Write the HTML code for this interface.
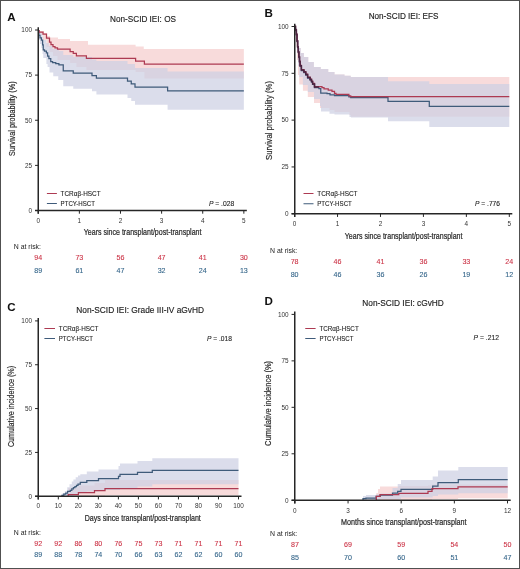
<!DOCTYPE html>
<html><head><meta charset="utf-8"><title>Non-SCID IEI outcomes</title>
<style>
html,body{margin:0;padding:0;background:#fff;}
body{width:520px;height:569px;overflow:hidden;}
svg{display:block;font-family:"Liberation Sans", sans-serif;-webkit-font-smoothing:antialiased;will-change:transform;}
</style></head>
<body>
<svg width="520" height="569" viewBox="0 0 520 569">
<rect x="0" y="0" width="520" height="569" fill="#fff"/>
<polygon points="38.25,30.00 40.00,30.00 40.00,31.00 44.00,31.00 44.00,33.00 47.00,33.00 47.00,36.00 50.00,36.00 50.00,37.50 58.00,37.50 58.00,39.00 70.00,39.00 70.00,41.00 88.00,41.00 88.00,44.75 135.60,44.75 135.60,46.60 143.75,46.60 143.75,49.10 243.85,49.10 243.85,78.40 144.40,78.40 144.40,72.00 135.60,72.00 135.60,70.00 86.40,70.00 86.40,67.00 76.40,67.00 76.40,63.00 70.10,63.00 70.10,60.00 57.50,60.00 57.50,56.00 53.00,56.00 53.00,52.00 49.50,52.00 49.50,47.00 46.50,47.00 46.50,40.00 43.00,40.00 43.00,35.00 39.00,35.00 39.00,30.00 38.25,30.00" fill="#f8dbdb"/>
<polygon points="38.25,30.00 38.90,30.00 38.90,31.00 40.00,31.00 40.00,32.50 41.40,32.50 41.40,34.00 42.60,34.00 42.60,37.00 43.25,37.00 43.25,40.00 46.40,40.00 46.40,43.00 48.90,43.00 48.90,46.00 52.60,46.00 52.60,49.00 58.90,49.00 58.90,51.00 63.25,51.00 63.25,55.00 73.25,55.00 73.25,57.00 92.00,57.00 92.00,59.50 96.40,59.50 96.40,61.00 127.50,61.00 127.50,64.00 135.00,64.00 135.00,68.00 167.60,68.00 167.60,71.40 243.85,71.40 243.85,109.75 167.60,109.75 167.60,104.75 135.00,104.75 135.00,101.00 131.25,101.00 131.25,98.00 127.50,98.00 127.50,94.40 96.40,94.40 96.40,91.25 92.00,91.25 92.00,88.75 73.25,88.75 73.25,86.25 63.25,86.25 63.25,80.00 58.25,80.00 58.25,76.25 53.25,76.25 53.25,72.50 49.50,72.50 49.50,67.00 47.60,67.00 47.60,64.00 46.40,64.00 46.40,58.00 43.25,58.00 43.25,54.00 42.60,54.00 42.60,48.00 41.40,48.00 41.40,44.00 40.00,44.00 40.00,40.00 38.90,40.00 38.90,30.00 38.25,30.00" fill="rgba(206,209,228,0.73)"/>
<path d="M38.25 30.50H38.90V35.40H40.00V37.90H41.40V40.00H42.60V44.75H43.25V49.75H44.50V51.00H46.40V52.90H47.60V56.00H48.90V58.50H50.75V61.60H52.60V62.50H55.75V63.50H58.90V64.75H63.25V70.75H73.25V73.10H92.00V75.60H96.40V78.10H127.50V81.00H131.25V83.75H135.00V87.00H167.60V90.80H243.85" fill="none" stroke="#3f5b7a" stroke-width="1.25"/>
<path d="M38.25 30.50H39.00V32.00H43.00V34.00H46.50V38.00H49.50V42.20H51.00V44.70H53.00V46.60H55.00V47.90H57.50V49.10H70.10V51.60H73.25V53.25H76.40V55.75H86.40V58.25H135.60V61.00H144.40V64.10H243.85" fill="none" stroke="#ad3a52" stroke-width="1.25"/>
<path d="M38.25 27.20V213.70" stroke="#262626" stroke-width="1.5" fill="none"/>
<path d="M35.05 210.50H246.85" stroke="#262626" stroke-width="1.3" fill="none"/>
<path d="M35.05 210.50H38.25" stroke="#262626" stroke-width="1" fill="none"/>
<text x="32.00" y="212.80" font-size="6.40" fill="#333" text-anchor="end">0</text>
<path d="M35.05 165.38H38.25" stroke="#262626" stroke-width="1" fill="none"/>
<text x="32.00" y="167.68" font-size="6.40" fill="#333" text-anchor="end">25</text>
<path d="M35.05 120.25H38.25" stroke="#262626" stroke-width="1" fill="none"/>
<text x="32.00" y="122.55" font-size="6.40" fill="#333" text-anchor="end">50</text>
<path d="M35.05 75.12H38.25" stroke="#262626" stroke-width="1" fill="none"/>
<text x="32.00" y="77.42" font-size="6.40" fill="#333" text-anchor="end">75</text>
<path d="M35.05 30.00H38.25" stroke="#262626" stroke-width="1" fill="none"/>
<text x="32.00" y="32.30" font-size="6.40" fill="#333" text-anchor="end">100</text>
<path d="M38.25 210.50V213.70" stroke="#262626" stroke-width="1" fill="none"/>
<text x="38.25" y="222.60" font-size="6.40" fill="#333" text-anchor="middle">0</text>
<path d="M79.37 210.50V213.70" stroke="#262626" stroke-width="1" fill="none"/>
<text x="79.37" y="222.60" font-size="6.40" fill="#333" text-anchor="middle">1</text>
<path d="M120.49 210.50V213.70" stroke="#262626" stroke-width="1" fill="none"/>
<text x="120.49" y="222.60" font-size="6.40" fill="#333" text-anchor="middle">2</text>
<path d="M161.61 210.50V213.70" stroke="#262626" stroke-width="1" fill="none"/>
<text x="161.61" y="222.60" font-size="6.40" fill="#333" text-anchor="middle">3</text>
<path d="M202.73 210.50V213.70" stroke="#262626" stroke-width="1" fill="none"/>
<text x="202.73" y="222.60" font-size="6.40" fill="#333" text-anchor="middle">4</text>
<path d="M243.85 210.50V213.70" stroke="#262626" stroke-width="1" fill="none"/>
<text x="243.85" y="222.60" font-size="6.40" fill="#333" text-anchor="middle">5</text>
<text x="83.75" y="235.30" font-size="8.60" fill="#2a2a2a" textLength="117.75" lengthAdjust="spacingAndGlyphs" stroke="#2a2a2a" stroke-width="0.22">Years since transplant/post-transplant</text>
<text transform="translate(14.70 156.10) rotate(-90)" font-size="8.4" fill="#2a2a2a" stroke="#2a2a2a" stroke-width="0.18" textLength="74.70" lengthAdjust="spacingAndGlyphs">Survival probability (%)</text>
<text x="7.30" y="20.60" font-size="11.60" fill="#111" font-weight="bold">A</text>
<text x="110.00" y="21.75" font-size="8.50" fill="#1e1e1e" textLength="66.00" lengthAdjust="spacingAndGlyphs" stroke="#1e1e1e" stroke-width="0.15">Non-SCID IEI: OS</text>
<path d="M46.90 193.50H56.90" stroke="#ad3a52" stroke-width="1" fill="none"/>
<path d="M46.90 203.50H56.90" stroke="#3f5b7a" stroke-width="1" fill="none"/>
<text x="60.60" y="196.00" font-size="7.40" fill="#262626" textLength="40.00" lengthAdjust="spacingAndGlyphs" stroke="#262626" stroke-width="0.12">TCR&#945;&#946;-HSCT</text>
<text x="60.60" y="205.60" font-size="7.40" fill="#262626" textLength="34.40" lengthAdjust="spacingAndGlyphs" stroke="#262626" stroke-width="0.12">PTCY-HSCT</text>
<text x="208.90" y="205.70" font-size="6.9" fill="#262626" stroke="#262626" stroke-width="0.12" textLength="25.30" lengthAdjust="spacingAndGlyphs"><tspan font-style="italic">P</tspan> = .028</text>
<text x="13.75" y="249.25" font-size="6.90" fill="#222" textLength="27.20" lengthAdjust="spacingAndGlyphs">N at risk:</text>
<text x="38.25" y="259.50" font-size="7.10" fill="#cc3447" text-anchor="middle" stroke="#cc3447" stroke-width="0.1">94</text>
<text x="38.25" y="273.00" font-size="7.10" fill="#35668a" text-anchor="middle" stroke="#35668a" stroke-width="0.1">89</text>
<text x="79.37" y="259.50" font-size="7.10" fill="#cc3447" text-anchor="middle" stroke="#cc3447" stroke-width="0.1">73</text>
<text x="79.37" y="273.00" font-size="7.10" fill="#35668a" text-anchor="middle" stroke="#35668a" stroke-width="0.1">61</text>
<text x="120.49" y="259.50" font-size="7.10" fill="#cc3447" text-anchor="middle" stroke="#cc3447" stroke-width="0.1">56</text>
<text x="120.49" y="273.00" font-size="7.10" fill="#35668a" text-anchor="middle" stroke="#35668a" stroke-width="0.1">47</text>
<text x="161.61" y="259.50" font-size="7.10" fill="#cc3447" text-anchor="middle" stroke="#cc3447" stroke-width="0.1">47</text>
<text x="161.61" y="273.00" font-size="7.10" fill="#35668a" text-anchor="middle" stroke="#35668a" stroke-width="0.1">32</text>
<text x="202.73" y="259.50" font-size="7.10" fill="#cc3447" text-anchor="middle" stroke="#cc3447" stroke-width="0.1">41</text>
<text x="202.73" y="273.00" font-size="7.10" fill="#35668a" text-anchor="middle" stroke="#35668a" stroke-width="0.1">24</text>
<text x="243.85" y="259.50" font-size="7.10" fill="#cc3447" text-anchor="middle" stroke="#cc3447" stroke-width="0.1">30</text>
<text x="243.85" y="273.00" font-size="7.10" fill="#35668a" text-anchor="middle" stroke="#35668a" stroke-width="0.1">13</text>
<polygon points="294.75,26.50 296.00,26.50 296.00,28.00 297.00,28.00 297.00,33.00 298.00,33.00 298.00,40.00 299.00,40.00 299.00,48.00 300.75,48.00 300.75,53.00 303.90,53.00 303.90,57.00 308.25,57.00 308.25,62.00 313.90,62.00 313.90,67.00 320.75,67.00 320.75,68.90 328.25,68.90 328.25,72.00 334.50,72.00 334.50,74.50 344.50,74.50 344.50,75.75 350.75,75.75 350.75,77.00 509.30,77.00 509.30,116.70 351.00,116.70 351.00,115.00 349.50,115.00 349.50,112.00 334.50,112.00 334.50,110.00 329.50,110.00 329.50,108.00 320.00,108.00 320.00,103.00 314.00,103.00 314.00,96.90 307.80,96.90 307.80,90.70 302.90,90.70 302.90,84.50 299.20,84.50 299.20,75.00 298.00,75.00 298.00,60.00 297.00,60.00 297.00,47.00 296.40,47.00 296.40,35.00 295.50,35.00 295.50,26.50 294.75,26.50" fill="#f8dbdb"/>
<polygon points="294.75,26.50 296.00,26.50 296.00,28.00 297.00,28.00 297.00,33.00 298.00,33.00 298.00,40.00 299.00,40.00 299.00,48.00 300.75,48.00 300.75,53.00 303.90,53.00 303.90,57.00 308.25,57.00 308.25,62.00 313.90,62.00 313.90,67.00 320.75,67.00 320.75,68.90 328.25,68.90 328.25,72.00 334.50,72.00 334.50,74.50 344.50,74.50 344.50,75.75 350.75,75.75 350.75,77.00 388.00,77.00 388.00,81.25 429.30,81.25 429.30,84.00 509.30,84.00 509.30,127.00 429.30,127.00 429.30,121.25 388.00,121.25 388.00,117.50 351.00,117.50 351.00,116.90 349.50,116.90 349.50,114.40 334.50,114.40 334.50,113.75 329.50,113.75 329.50,111.60 321.00,111.60 321.00,106.00 320.00,106.00 320.00,99.00 314.00,99.00 314.00,92.00 307.80,92.00 307.80,85.00 302.90,85.00 302.90,77.00 299.20,77.00 299.20,66.00 298.00,66.00 298.00,52.00 297.00,52.00 297.00,33.00 296.00,33.00 296.00,26.50 294.75,26.50" fill="rgba(206,209,228,0.73)"/>
<path d="M294.75 27.00H295.50V30.50H296.40V35.00H297.00V41.50H297.60V47.50H298.30V52.50H298.90V57.50H299.50V62.00H300.10V66.25H301.40V70.60H303.90V72.50H305.75V75.00H307.60V78.10H310.10V80.00H311.50V82.00H312.60V84.40H314.50V87.50H318.90V88.60H320.75V93.00H327.00V93.60H330.00V94.90H334.50V95.50H348.90V96.75H350.75V97.50H388.00V101.25H429.30V106.30H509.30" fill="none" stroke="#3f5b7a" stroke-width="1.25"/>
<path d="M294.75 26.00H295.50V29.50H296.40V34.00H297.00V40.50H297.60V46.50H298.30V51.50H298.90V56.50H299.50V61.00H300.10V65.25H301.40V69.60H303.90V71.50H305.75V74.00H307.60V77.10H310.10V79.00H311.50V81.00H312.60V83.40H314.50V86.50H322.00V87.50H324.00V88.90H328.25V90.10H332.00V91.40H334.50V93.25H336.00V94.25H348.90V95.75H350.75V96.50H509.30" fill="none" stroke="#ad3a52" stroke-width="1.25"/>
<path d="M294.75 26.50H295.50V30.00H296.40V34.50H297.00V41.00H297.60V47.00H298.30V52.00H298.90V57.00H299.50V61.50H300.10V65.75H301.40V70.10H303.90V72.00H305.75V74.50H307.60V77.60H310.10V79.50H311.50V81.50H312.60V83.90H314.50V87.00H318.90" fill="none" stroke="#4a2440" stroke-width="1.5"/>
<path d="M294.75 23.70V216.95" stroke="#262626" stroke-width="1.5" fill="none"/>
<path d="M291.55 213.75H512.30" stroke="#262626" stroke-width="1.3" fill="none"/>
<path d="M291.55 213.75H294.75" stroke="#262626" stroke-width="1" fill="none"/>
<text x="288.60" y="216.05" font-size="6.40" fill="#333" text-anchor="end">0</text>
<path d="M291.55 166.94H294.75" stroke="#262626" stroke-width="1" fill="none"/>
<text x="288.60" y="169.24" font-size="6.40" fill="#333" text-anchor="end">25</text>
<path d="M291.55 120.12H294.75" stroke="#262626" stroke-width="1" fill="none"/>
<text x="288.60" y="122.42" font-size="6.40" fill="#333" text-anchor="end">50</text>
<path d="M291.55 73.31H294.75" stroke="#262626" stroke-width="1" fill="none"/>
<text x="288.60" y="75.61" font-size="6.40" fill="#333" text-anchor="end">75</text>
<path d="M291.55 26.50H294.75" stroke="#262626" stroke-width="1" fill="none"/>
<text x="288.60" y="28.80" font-size="6.40" fill="#333" text-anchor="end">100</text>
<path d="M294.60 213.75V216.95" stroke="#262626" stroke-width="1" fill="none"/>
<text x="294.60" y="226.30" font-size="6.40" fill="#333" text-anchor="middle">0</text>
<path d="M337.54 213.75V216.95" stroke="#262626" stroke-width="1" fill="none"/>
<text x="337.54" y="226.30" font-size="6.40" fill="#333" text-anchor="middle">1</text>
<path d="M380.48 213.75V216.95" stroke="#262626" stroke-width="1" fill="none"/>
<text x="380.48" y="226.30" font-size="6.40" fill="#333" text-anchor="middle">2</text>
<path d="M423.42 213.75V216.95" stroke="#262626" stroke-width="1" fill="none"/>
<text x="423.42" y="226.30" font-size="6.40" fill="#333" text-anchor="middle">3</text>
<path d="M466.36 213.75V216.95" stroke="#262626" stroke-width="1" fill="none"/>
<text x="466.36" y="226.30" font-size="6.40" fill="#333" text-anchor="middle">4</text>
<path d="M509.30 213.75V216.95" stroke="#262626" stroke-width="1" fill="none"/>
<text x="509.30" y="226.30" font-size="6.40" fill="#333" text-anchor="middle">5</text>
<text x="344.75" y="238.60" font-size="8.60" fill="#2a2a2a" textLength="117.75" lengthAdjust="spacingAndGlyphs" stroke="#2a2a2a" stroke-width="0.22">Years since transplant/post-transplant</text>
<text transform="translate(271.50 160.00) rotate(-90)" font-size="8.4" fill="#2a2a2a" stroke="#2a2a2a" stroke-width="0.18" textLength="79.00" lengthAdjust="spacingAndGlyphs">Survival probability (%)</text>
<text x="264.60" y="17.30" font-size="11.60" fill="#111" font-weight="bold">B</text>
<text x="368.65" y="18.85" font-size="8.50" fill="#1e1e1e" textLength="69.85" lengthAdjust="spacingAndGlyphs" stroke="#1e1e1e" stroke-width="0.15">Non-SCID IEI: EFS</text>
<path d="M303.50 193.50H313.50" stroke="#ad3a52" stroke-width="1" fill="none"/>
<path d="M303.50 203.75H313.50" stroke="#3f5b7a" stroke-width="1" fill="none"/>
<text x="317.25" y="196.00" font-size="7.40" fill="#262626" textLength="40.25" lengthAdjust="spacingAndGlyphs" stroke="#262626" stroke-width="0.12">TCR&#945;&#946;-HSCT</text>
<text x="317.25" y="206.00" font-size="7.40" fill="#262626" textLength="34.60" lengthAdjust="spacingAndGlyphs" stroke="#262626" stroke-width="0.12">PTCY-HSCT</text>
<text x="475.00" y="206.10" font-size="6.9" fill="#262626" stroke="#262626" stroke-width="0.12" textLength="25.00" lengthAdjust="spacingAndGlyphs"><tspan font-style="italic">P</tspan> = .776</text>
<text x="270.10" y="253.00" font-size="6.90" fill="#222" textLength="27.20" lengthAdjust="spacingAndGlyphs">N at risk:</text>
<text x="294.60" y="263.60" font-size="7.10" fill="#cc3447" text-anchor="middle" stroke="#cc3447" stroke-width="0.1">78</text>
<text x="294.60" y="276.70" font-size="7.10" fill="#35668a" text-anchor="middle" stroke="#35668a" stroke-width="0.1">80</text>
<text x="337.54" y="263.60" font-size="7.10" fill="#cc3447" text-anchor="middle" stroke="#cc3447" stroke-width="0.1">46</text>
<text x="337.54" y="276.70" font-size="7.10" fill="#35668a" text-anchor="middle" stroke="#35668a" stroke-width="0.1">46</text>
<text x="380.48" y="263.60" font-size="7.10" fill="#cc3447" text-anchor="middle" stroke="#cc3447" stroke-width="0.1">41</text>
<text x="380.48" y="276.70" font-size="7.10" fill="#35668a" text-anchor="middle" stroke="#35668a" stroke-width="0.1">36</text>
<text x="423.42" y="263.60" font-size="7.10" fill="#cc3447" text-anchor="middle" stroke="#cc3447" stroke-width="0.1">36</text>
<text x="423.42" y="276.70" font-size="7.10" fill="#35668a" text-anchor="middle" stroke="#35668a" stroke-width="0.1">26</text>
<text x="466.36" y="263.60" font-size="7.10" fill="#cc3447" text-anchor="middle" stroke="#cc3447" stroke-width="0.1">33</text>
<text x="466.36" y="276.70" font-size="7.10" fill="#35668a" text-anchor="middle" stroke="#35668a" stroke-width="0.1">19</text>
<text x="509.30" y="263.60" font-size="7.10" fill="#cc3447" text-anchor="middle" stroke="#cc3447" stroke-width="0.1">24</text>
<text x="509.30" y="276.70" font-size="7.10" fill="#35668a" text-anchor="middle" stroke="#35668a" stroke-width="0.1">12</text>
<polygon points="38.30,496.25 68.20,496.25 68.20,488.00 78.40,488.00 78.40,485.50 94.50,485.50 94.50,483.00 105.00,483.00 105.00,480.00 238.50,480.00 238.50,495.20 105.00,495.20 105.00,495.70 94.50,495.70 94.50,496.00 78.40,496.00 78.40,496.20 68.20,496.20 68.20,496.25 38.30,496.25" fill="#f8dbdb"/>
<polygon points="38.30,496.25 61.90,496.25 61.90,494.00 62.60,494.00 62.60,493.00 64.90,493.00 64.90,491.00 67.20,491.00 67.20,487.20 69.50,487.20 69.50,484.20 71.80,484.20 71.80,481.50 73.40,481.50 73.40,479.50 75.70,479.50 75.70,477.20 78.00,477.20 78.00,475.50 80.30,475.50 80.30,474.20 86.80,474.20 86.80,471.50 98.50,471.50 98.50,469.50 118.50,469.50 118.50,466.00 120.00,466.00 120.00,463.50 137.50,463.50 137.50,461.00 152.30,461.00 152.30,458.30 238.50,458.30 238.50,484.20 152.30,484.20 152.30,486.50 137.50,486.50 137.50,488.00 120.00,488.00 120.00,490.00 98.50,490.00 98.50,491.50 86.80,491.50 86.80,493.00 80.30,493.00 80.30,494.00 78.00,494.00 78.00,495.00 73.40,495.00 73.40,496.00 67.60,496.00 67.60,496.25 38.30,496.25" fill="rgba(206,209,228,0.73)"/>
<path d="M61.90 496.25H61.90V495.30H63.80V494.20H65.70V493.00H67.60V491.30H70.30V490.30H71.80V488.90H73.40V487.60H74.90V486.50H76.50V485.30H78.00V484.20H80.30V482.40H86.80V480.50H98.50V478.60H118.50V476.30H120.00V474.40H137.50V472.40H152.30V470.30H238.50" fill="none" stroke="#3f5b7a" stroke-width="1.25"/>
<path d="M68.20 496.25H68.20V494.60H78.40V492.60H94.50V490.60H105.00V488.50H238.50" fill="none" stroke="#ad3a52" stroke-width="1.25"/>
<path d="M38.25 318.10V499.45" stroke="#262626" stroke-width="1.5" fill="none"/>
<path d="M35.05 496.25H241.50" stroke="#262626" stroke-width="1.3" fill="none"/>
<path d="M35.05 496.25H38.25" stroke="#262626" stroke-width="1" fill="none"/>
<text x="32.00" y="498.55" font-size="6.40" fill="#333" text-anchor="end">0</text>
<path d="M35.05 452.41H38.25" stroke="#262626" stroke-width="1" fill="none"/>
<text x="32.00" y="454.71" font-size="6.40" fill="#333" text-anchor="end">25</text>
<path d="M35.05 408.57H38.25" stroke="#262626" stroke-width="1" fill="none"/>
<text x="32.00" y="410.88" font-size="6.40" fill="#333" text-anchor="end">50</text>
<path d="M35.05 364.74H38.25" stroke="#262626" stroke-width="1" fill="none"/>
<text x="32.00" y="367.04" font-size="6.40" fill="#333" text-anchor="end">75</text>
<path d="M35.05 320.90H38.25" stroke="#262626" stroke-width="1" fill="none"/>
<text x="32.00" y="323.20" font-size="6.40" fill="#333" text-anchor="end">100</text>
<path d="M38.30 496.25V499.45" stroke="#262626" stroke-width="1" fill="none"/>
<text x="38.30" y="508.40" font-size="6.40" fill="#333" text-anchor="middle">0</text>
<path d="M58.32 496.25V499.45" stroke="#262626" stroke-width="1" fill="none"/>
<text x="58.32" y="508.40" font-size="6.40" fill="#333" text-anchor="middle">10</text>
<path d="M78.34 496.25V499.45" stroke="#262626" stroke-width="1" fill="none"/>
<text x="78.34" y="508.40" font-size="6.40" fill="#333" text-anchor="middle">20</text>
<path d="M98.36 496.25V499.45" stroke="#262626" stroke-width="1" fill="none"/>
<text x="98.36" y="508.40" font-size="6.40" fill="#333" text-anchor="middle">30</text>
<path d="M118.38 496.25V499.45" stroke="#262626" stroke-width="1" fill="none"/>
<text x="118.38" y="508.40" font-size="6.40" fill="#333" text-anchor="middle">40</text>
<path d="M138.40 496.25V499.45" stroke="#262626" stroke-width="1" fill="none"/>
<text x="138.40" y="508.40" font-size="6.40" fill="#333" text-anchor="middle">50</text>
<path d="M158.42 496.25V499.45" stroke="#262626" stroke-width="1" fill="none"/>
<text x="158.42" y="508.40" font-size="6.40" fill="#333" text-anchor="middle">60</text>
<path d="M178.44 496.25V499.45" stroke="#262626" stroke-width="1" fill="none"/>
<text x="178.44" y="508.40" font-size="6.40" fill="#333" text-anchor="middle">70</text>
<path d="M198.46 496.25V499.45" stroke="#262626" stroke-width="1" fill="none"/>
<text x="198.46" y="508.40" font-size="6.40" fill="#333" text-anchor="middle">80</text>
<path d="M218.48 496.25V499.45" stroke="#262626" stroke-width="1" fill="none"/>
<text x="218.48" y="508.40" font-size="6.40" fill="#333" text-anchor="middle">90</text>
<path d="M238.50 496.25V499.45" stroke="#262626" stroke-width="1" fill="none"/>
<text x="238.50" y="508.40" font-size="6.40" fill="#333" text-anchor="middle">100</text>
<text x="84.75" y="521.20" font-size="8.60" fill="#2a2a2a" textLength="116.05" lengthAdjust="spacingAndGlyphs" stroke="#2a2a2a" stroke-width="0.22">Days since transplant/post-transplant</text>
<text transform="translate(14.40 447.10) rotate(-90)" font-size="8.4" fill="#2a2a2a" stroke="#2a2a2a" stroke-width="0.18" textLength="81.20" lengthAdjust="spacingAndGlyphs">Cumulative incidence (%)</text>
<text x="7.30" y="311.30" font-size="11.60" fill="#111" font-weight="bold">C</text>
<text x="76.25" y="312.50" font-size="8.50" fill="#1e1e1e" textLength="127.75" lengthAdjust="spacingAndGlyphs" stroke="#1e1e1e" stroke-width="0.15">Non-SCID IEI: Grade III-IV aGvHD</text>
<path d="M44.40 328.50H55.00" stroke="#ad3a52" stroke-width="1" fill="none"/>
<path d="M44.40 338.50H55.00" stroke="#3f5b7a" stroke-width="1" fill="none"/>
<text x="58.75" y="330.60" font-size="7.40" fill="#262626" textLength="39.75" lengthAdjust="spacingAndGlyphs" stroke="#262626" stroke-width="0.12">TCR&#945;&#946;-HSCT</text>
<text x="58.75" y="340.60" font-size="7.40" fill="#262626" textLength="34.20" lengthAdjust="spacingAndGlyphs" stroke="#262626" stroke-width="0.12">PTCY-HSCT</text>
<text x="206.90" y="340.60" font-size="6.9" fill="#262626" stroke="#262626" stroke-width="0.12" textLength="25.00" lengthAdjust="spacingAndGlyphs"><tspan font-style="italic">P</tspan> = .018</text>
<text x="13.75" y="535.25" font-size="6.90" fill="#222" textLength="27.20" lengthAdjust="spacingAndGlyphs">N at risk:</text>
<text x="38.30" y="545.75" font-size="7.10" fill="#cc3447" text-anchor="middle" stroke="#cc3447" stroke-width="0.1">92</text>
<text x="38.30" y="556.50" font-size="7.10" fill="#35668a" text-anchor="middle" stroke="#35668a" stroke-width="0.1">89</text>
<text x="58.32" y="545.75" font-size="7.10" fill="#cc3447" text-anchor="middle" stroke="#cc3447" stroke-width="0.1">92</text>
<text x="58.32" y="556.50" font-size="7.10" fill="#35668a" text-anchor="middle" stroke="#35668a" stroke-width="0.1">88</text>
<text x="78.34" y="545.75" font-size="7.10" fill="#cc3447" text-anchor="middle" stroke="#cc3447" stroke-width="0.1">86</text>
<text x="78.34" y="556.50" font-size="7.10" fill="#35668a" text-anchor="middle" stroke="#35668a" stroke-width="0.1">78</text>
<text x="98.36" y="545.75" font-size="7.10" fill="#cc3447" text-anchor="middle" stroke="#cc3447" stroke-width="0.1">80</text>
<text x="98.36" y="556.50" font-size="7.10" fill="#35668a" text-anchor="middle" stroke="#35668a" stroke-width="0.1">74</text>
<text x="118.38" y="545.75" font-size="7.10" fill="#cc3447" text-anchor="middle" stroke="#cc3447" stroke-width="0.1">76</text>
<text x="118.38" y="556.50" font-size="7.10" fill="#35668a" text-anchor="middle" stroke="#35668a" stroke-width="0.1">70</text>
<text x="138.40" y="545.75" font-size="7.10" fill="#cc3447" text-anchor="middle" stroke="#cc3447" stroke-width="0.1">75</text>
<text x="138.40" y="556.50" font-size="7.10" fill="#35668a" text-anchor="middle" stroke="#35668a" stroke-width="0.1">66</text>
<text x="158.42" y="545.75" font-size="7.10" fill="#cc3447" text-anchor="middle" stroke="#cc3447" stroke-width="0.1">73</text>
<text x="158.42" y="556.50" font-size="7.10" fill="#35668a" text-anchor="middle" stroke="#35668a" stroke-width="0.1">63</text>
<text x="178.44" y="545.75" font-size="7.10" fill="#cc3447" text-anchor="middle" stroke="#cc3447" stroke-width="0.1">71</text>
<text x="178.44" y="556.50" font-size="7.10" fill="#35668a" text-anchor="middle" stroke="#35668a" stroke-width="0.1">62</text>
<text x="198.46" y="545.75" font-size="7.10" fill="#cc3447" text-anchor="middle" stroke="#cc3447" stroke-width="0.1">71</text>
<text x="198.46" y="556.50" font-size="7.10" fill="#35668a" text-anchor="middle" stroke="#35668a" stroke-width="0.1">62</text>
<text x="218.48" y="545.75" font-size="7.10" fill="#cc3447" text-anchor="middle" stroke="#cc3447" stroke-width="0.1">71</text>
<text x="218.48" y="556.50" font-size="7.10" fill="#35668a" text-anchor="middle" stroke="#35668a" stroke-width="0.1">60</text>
<text x="238.50" y="545.75" font-size="7.10" fill="#cc3447" text-anchor="middle" stroke="#cc3447" stroke-width="0.1">71</text>
<text x="238.50" y="556.50" font-size="7.10" fill="#35668a" text-anchor="middle" stroke="#35668a" stroke-width="0.1">60</text>
<polygon points="294.75,500.25 376.30,500.25 376.30,493.00 378.00,493.00 378.00,489.00 380.00,489.00 380.00,486.50 398.75,486.50 398.75,486.00 428.00,486.00 428.00,485.50 432.00,485.50 432.00,484.60 458.00,484.60 458.00,484.60 507.70,484.60 507.70,498.30 458.00,498.30 458.00,499.00 432.00,499.00 432.00,499.80 398.75,499.80 398.75,500.25 376.30,500.25 376.30,500.25 294.75,500.25" fill="#f8dbdb"/>
<polygon points="294.75,500.25 363.00,500.25 363.00,496.00 366.00,496.00 366.00,495.00 376.20,495.00 376.20,494.50 380.20,494.50 380.20,493.50 392.50,493.50 392.50,488.00 397.70,488.00 397.70,484.00 401.00,484.00 401.00,480.00 432.70,480.00 432.70,476.50 438.00,476.50 438.00,470.50 458.30,470.50 458.30,467.10 507.70,467.10 507.70,493.30 458.30,493.30 458.30,494.50 438.00,494.50 438.00,496.00 432.70,496.00 432.70,497.50 401.00,497.50 401.00,499.00 380.20,499.00 380.20,500.00 376.20,500.00 376.20,500.25 363.00,500.25 363.00,500.25 294.75,500.25" fill="rgba(206,209,228,0.73)"/>
<path d="M363.00 500.25H363.00V498.50H366.00V498.20H376.20V496.40H380.20V495.00H392.50V493.00H397.70V491.30H401.00V489.30H432.70V486.00H438.00V482.60H458.30V479.60H507.70" fill="none" stroke="#3f5b7a" stroke-width="1.25"/>
<path d="M376.30 500.25H376.30V496.30H380.00V494.50H398.75V493.30H428.00V491.30H432.00V488.60H458.00V486.80H507.70" fill="none" stroke="#ad3a52" stroke-width="1.25"/>
<path d="M294.75 311.60V503.45" stroke="#262626" stroke-width="1.5" fill="none"/>
<path d="M291.55 500.25H510.70" stroke="#262626" stroke-width="1.3" fill="none"/>
<path d="M291.55 500.25H294.75" stroke="#262626" stroke-width="1" fill="none"/>
<text x="288.60" y="502.55" font-size="6.40" fill="#333" text-anchor="end">0</text>
<path d="M291.55 453.79H294.75" stroke="#262626" stroke-width="1" fill="none"/>
<text x="288.60" y="456.09" font-size="6.40" fill="#333" text-anchor="end">25</text>
<path d="M291.55 407.32H294.75" stroke="#262626" stroke-width="1" fill="none"/>
<text x="288.60" y="409.62" font-size="6.40" fill="#333" text-anchor="end">50</text>
<path d="M291.55 360.86H294.75" stroke="#262626" stroke-width="1" fill="none"/>
<text x="288.60" y="363.16" font-size="6.40" fill="#333" text-anchor="end">75</text>
<path d="M291.55 314.40H294.75" stroke="#262626" stroke-width="1" fill="none"/>
<text x="288.60" y="316.70" font-size="6.40" fill="#333" text-anchor="end">100</text>
<path d="M294.90 500.25V503.45" stroke="#262626" stroke-width="1" fill="none"/>
<text x="294.90" y="512.50" font-size="6.40" fill="#333" text-anchor="middle">0</text>
<path d="M348.05 500.25V503.45" stroke="#262626" stroke-width="1" fill="none"/>
<text x="348.05" y="512.50" font-size="6.40" fill="#333" text-anchor="middle">3</text>
<path d="M401.20 500.25V503.45" stroke="#262626" stroke-width="1" fill="none"/>
<text x="401.20" y="512.50" font-size="6.40" fill="#333" text-anchor="middle">6</text>
<path d="M454.35 500.25V503.45" stroke="#262626" stroke-width="1" fill="none"/>
<text x="454.35" y="512.50" font-size="6.40" fill="#333" text-anchor="middle">9</text>
<path d="M507.50 500.25V503.45" stroke="#262626" stroke-width="1" fill="none"/>
<text x="507.50" y="512.50" font-size="6.40" fill="#333" text-anchor="middle">12</text>
<text x="341.00" y="525.40" font-size="8.60" fill="#2a2a2a" textLength="125.50" lengthAdjust="spacingAndGlyphs" stroke="#2a2a2a" stroke-width="0.22">Months since transplant/post-transplant</text>
<text transform="translate(271.10 445.90) rotate(-90)" font-size="8.4" fill="#2a2a2a" stroke="#2a2a2a" stroke-width="0.18" textLength="85.00" lengthAdjust="spacingAndGlyphs">Cumulative incidence (%)</text>
<text x="264.60" y="304.60" font-size="11.60" fill="#111" font-weight="bold">D</text>
<text x="362.30" y="306.00" font-size="8.50" fill="#1e1e1e" textLength="81.50" lengthAdjust="spacingAndGlyphs" stroke="#1e1e1e" stroke-width="0.15">Non-SCID IEI: cGvHD</text>
<path d="M305.25 328.50H315.60" stroke="#ad3a52" stroke-width="1" fill="none"/>
<path d="M305.25 338.50H315.60" stroke="#3f5b7a" stroke-width="1" fill="none"/>
<text x="319.40" y="330.60" font-size="7.40" fill="#262626" textLength="39.35" lengthAdjust="spacingAndGlyphs" stroke="#262626" stroke-width="0.12">TCR&#945;&#946;-HSCT</text>
<text x="319.40" y="340.60" font-size="7.40" fill="#262626" textLength="34.00" lengthAdjust="spacingAndGlyphs" stroke="#262626" stroke-width="0.12">PTCY-HSCT</text>
<text x="473.50" y="340.30" font-size="6.9" fill="#262626" stroke="#262626" stroke-width="0.12" textLength="25.50" lengthAdjust="spacingAndGlyphs"><tspan font-style="italic">P</tspan> = .212</text>
<text x="270.10" y="536.10" font-size="6.90" fill="#222" textLength="27.20" lengthAdjust="spacingAndGlyphs">N at risk:</text>
<text x="294.90" y="547.00" font-size="7.10" fill="#cc3447" text-anchor="middle" stroke="#cc3447" stroke-width="0.1">87</text>
<text x="294.90" y="560.25" font-size="7.10" fill="#35668a" text-anchor="middle" stroke="#35668a" stroke-width="0.1">85</text>
<text x="348.05" y="547.00" font-size="7.10" fill="#cc3447" text-anchor="middle" stroke="#cc3447" stroke-width="0.1">69</text>
<text x="348.05" y="560.25" font-size="7.10" fill="#35668a" text-anchor="middle" stroke="#35668a" stroke-width="0.1">70</text>
<text x="401.20" y="547.00" font-size="7.10" fill="#cc3447" text-anchor="middle" stroke="#cc3447" stroke-width="0.1">59</text>
<text x="401.20" y="560.25" font-size="7.10" fill="#35668a" text-anchor="middle" stroke="#35668a" stroke-width="0.1">60</text>
<text x="454.35" y="547.00" font-size="7.10" fill="#cc3447" text-anchor="middle" stroke="#cc3447" stroke-width="0.1">54</text>
<text x="454.35" y="560.25" font-size="7.10" fill="#35668a" text-anchor="middle" stroke="#35668a" stroke-width="0.1">51</text>
<text x="507.50" y="547.00" font-size="7.10" fill="#cc3447" text-anchor="middle" stroke="#cc3447" stroke-width="0.1">50</text>
<text x="507.50" y="560.25" font-size="7.10" fill="#35668a" text-anchor="middle" stroke="#35668a" stroke-width="0.1">47</text>
<rect x="0.5" y="0.5" width="519" height="568" fill="none" stroke="#505050" stroke-width="1"/>
</svg>
</body></html>
